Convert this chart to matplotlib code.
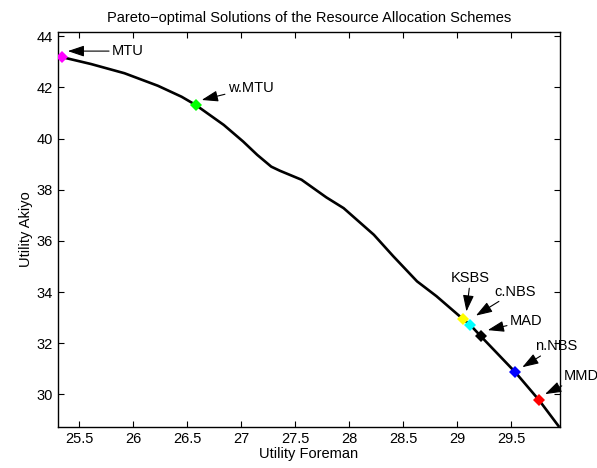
import matplotlib
matplotlib.use("Agg")
from matplotlib import pyplot as plt
from matplotlib.transforms import offset_copy

plt.rcParams['font.family'] = ['Liberation Sans', 'DejaVu Sans']

# pareto front
front_x = [25.34, 25.61, 25.92, 26.23, 26.45, 26.58, 26.84, 27.02, 27.15, 27.28,
           27.36, 27.56, 27.79, 27.95, 28.23, 28.41, 28.63, 28.81, 29.06, 29.12,
           29.22, 29.54, 29.76, 29.94]
front_y = [43.18, 42.91, 42.55, 42.06, 41.63, 41.31, 40.53, 39.88, 39.36, 38.90,
           38.74, 38.39, 37.70, 37.28, 36.24, 35.40, 34.42, 33.84, 32.93, 32.73,
           32.28, 30.87, 29.78, 28.77]

# resource allocation schemes
schemes = ["MTU", "w.MTU", "KSBS", "c.NBS", "MAD", "n.NBS", "MMD"]
scheme_x = [25.34, 26.58, 29.06, 29.12, 29.22, 29.54, 29.76]
scheme_y = [43.18, 41.31, 32.93, 32.73, 32.28, 30.87, 29.78]
scheme_colors = ["#ff00ff", "#00ff00", "#ffff00", "#00ffff", "#000000", "#0000ff", "#ff0000"]

# arrow head offset from marker, text offset from head (pixels), alignment
head_off = [(6, 6), (6, 5), (3, 8), (6, 9), (7, 6), (7, 5), (6, 6)]
text_off = [(44, 0), (26, 12), (4, 26), (18, 17), (22, 9), (13, 14), (19, 11)]
text_align = [("left", "center"), ("left", "center"), ("center", "bottom"),
              ("left", "bottom"), ("left", "center"), ("left", "bottom"), ("left", "bottom")]

fig = plt.figure(figsize=(5.97, 4.68), dpi=100)
ax = fig.add_axes([0.0972, 0.0876, 0.8408, 0.844])

ax.plot(front_x, front_y, color="black", lw=1.9, zorder=2, solid_joinstyle="round")
for x, y, c in zip(scheme_x, scheme_y, scheme_colors):
    ax.plot(x, y, marker="D", color=c, markersize=6.5, markeredgewidth=0,
            linestyle="none", zorder=3)

for name, x, y, (hx, hy), (tx, ty), (ha, va) in zip(schemes, scheme_x, scheme_y,
                                                     head_off, text_off, text_align):
    tr = offset_copy(ax.transData, fig=fig, x=hx, y=hy, units="dots")
    ax.annotate(name, xy=(x, y), xycoords=tr,
                xytext=(tx, ty), textcoords="offset pixels",
                ha=ha, va=va, fontsize=10.5, annotation_clip=False,
                arrowprops=dict(arrowstyle="-|>,head_length=0.95,head_width=0.32",
                                color="black", lw=0.8, shrinkA=0, shrinkB=0))

ax.set_xlim(25.305, 29.954)
ax.set_ylim(28.73, 44.16)
ax.set_xticks([25.5, 26, 26.5, 27, 27.5, 28, 28.5, 29, 29.5])
ax.set_xticklabels(["25.5", "26", "26.5", "27", "27.5", "28", "28.5", "29", "29.5"])
ax.set_yticks([30, 32, 34, 36, 38, 40, 42, 44])
ax.tick_params(direction="in", top=True, right=True, length=4, labelsize=10.5, width=0.8)
for s in ax.spines.values():
    s.set_linewidth(1.0)

ax.set_xlabel("Utility Foreman", fontsize=10.5, labelpad=1)
ax.set_ylabel("Utility Akiyo", fontsize=10.5, labelpad=3)
ax.set_title("Pareto\u2212optimal Solutions of the Resource Allocation Schemes", fontsize=10.5, pad=7)

fig.savefig("out.png", dpi=100)
